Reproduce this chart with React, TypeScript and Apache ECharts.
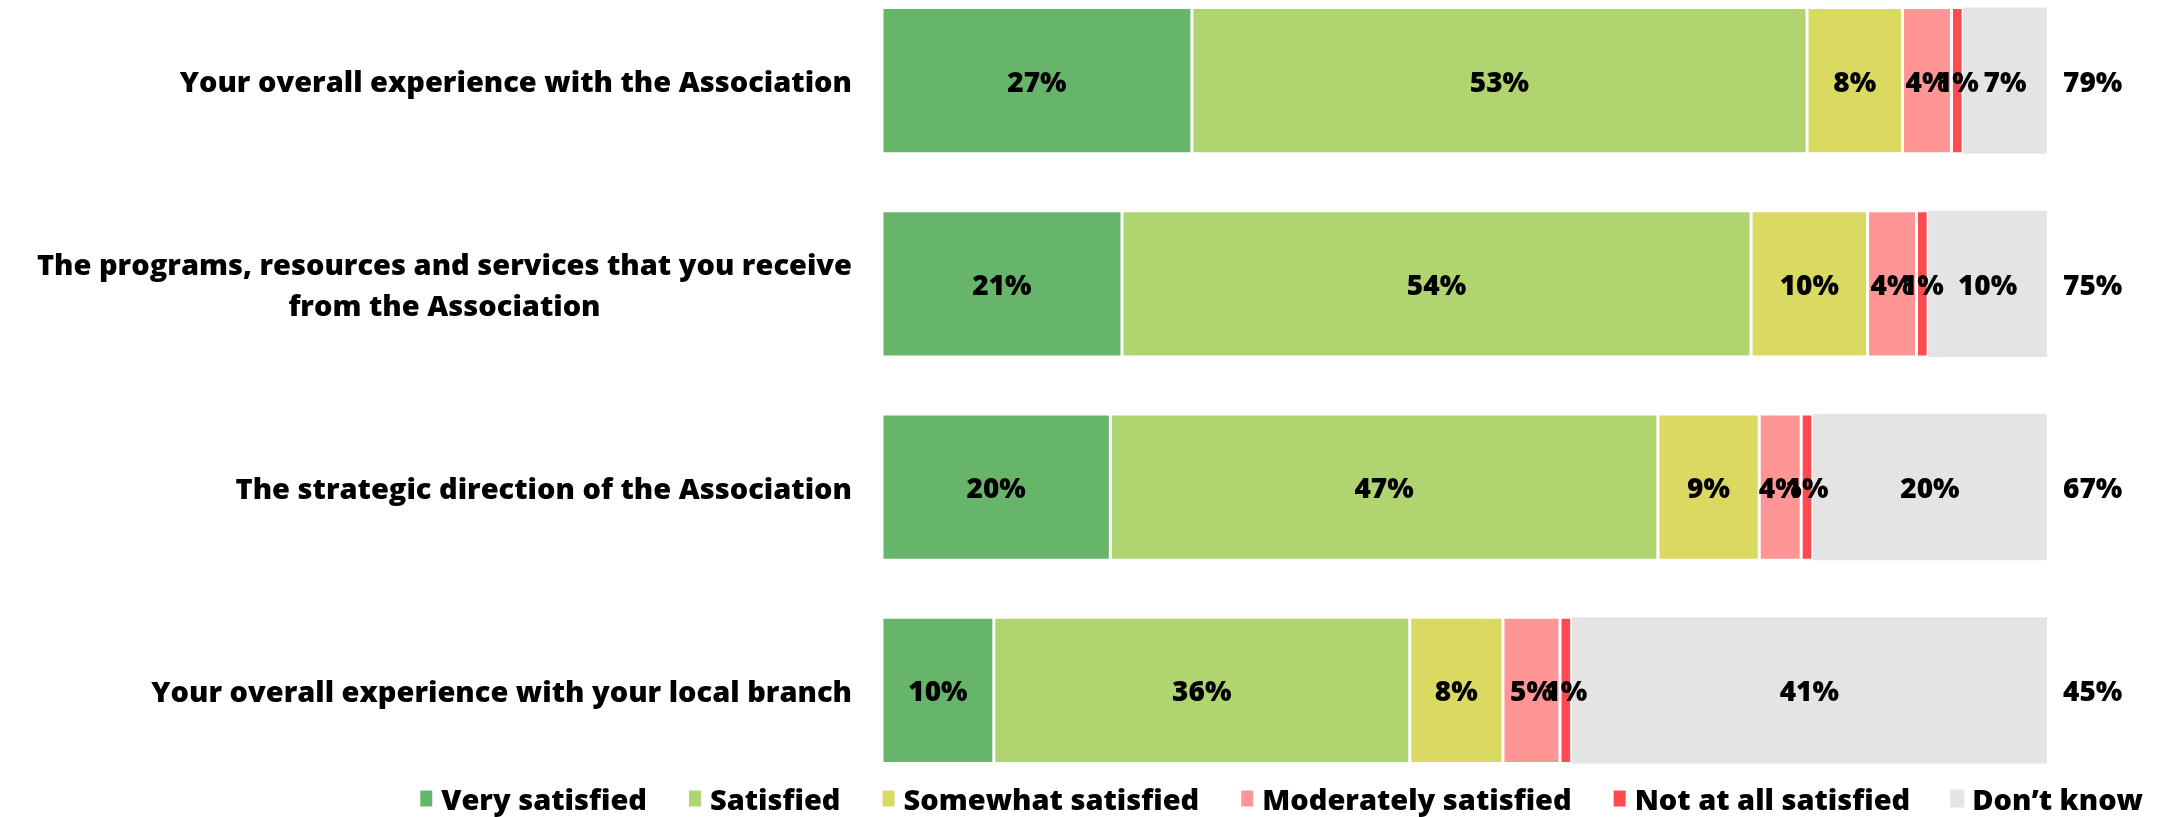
import React, { useEffect, useRef } from "react";
import * as echarts from "echarts";

const categories = [
  "Your overall experience with the Association",
  "The programs, resources and services that you receive\nfrom the Association",
  "The strategic direction of the Association",
  "Your overall experience with your local branch",
];
const seriesNames = [
  "Very satisfied",
  "Satisfied",
  "Somewhat satisfied",
  "Moderately satisfied",
  "Not at all satisfied",
  "Don\u2019t know",
];
const verySatisfied = [26.6, 20.6, 19.6, 9.6];
const satisfied = [52.8, 54.0, 47.0, 35.7];
const somewhatSatisfied = [8.2, 10.0, 8.7, 8.0];
const moderatelySatisfied = [4.2, 4.2, 3.6, 4.9];
const notAtAllSatisfied = [1.0, 1.0, 1.0, 1.0];
const dontKnow = [7.2, 10.2, 20.1, 40.8];
const totals = [79, 75, 67, 45];

const colors = ["#66B56A", "#B0D46F", "#DAD962", "#FF9594", "#FF4A52", "#E3E4E3"];
const FONT = "Open Sans";
const WEIGHT = 800;

export default function App() {
  const ref = useRef<HTMLDivElement>(null);
  useEffect(() => {
    if (!ref.current) return;
    const chart = echarts.init(ref.current, undefined, { renderer: "svg" });
    const values = [
      verySatisfied,
      satisfied,
      somewhatSatisfied,
      moderatelySatisfied,
      notAtAllSatisfied,
      dontKnow,
    ];
    const series = seriesNames.map((name, i) => ({
      name,
      type: "bar",
      stack: "total",
      data: values[i],
      barCategoryGap: "28%",
      itemStyle: {
        color: colors[i],
        borderColor: "#ffffff",
        borderWidth: i === 5 ? 0 : 1.5,
      },
      label: {
        show: true,
        position: "inside",
        formatter: (p: any) => Math.round(p.value) + "%",
        color: "#000",
        fontFamily: FONT,
        fontWeight: WEIGHT,
        fontSize: 28,
      },
    }));
    chart.setOption({
      animation: false,
      color: colors,
      grid: {
        left: 882,
        right: 115,
        top: -21,
        height: 813,
        containLabel: false,
        outerBoundsMode: "none",
      },
      legend: {
        data: seriesNames,
        right: 14,
        top: 779,
        icon: "rect",
        itemWidth: 14,
        itemHeight: 18,
        itemGap: 40,
        textStyle: {
          fontFamily: FONT,
          fontWeight: WEIGHT,
          fontSize: 29,
          color: "#000",
          padding: [0, 0, 0, 3],
        },
      },
      xAxis: { type: "value", min: 0, max: 100, show: false },
      yAxis: [
        {
          type: "category",
          data: categories,
          inverse: true,
          axisLine: { show: false },
          axisTick: { show: false },
          axisLabel: {
            margin: 30,
            align: "right",
            formatter: (v: string) =>
              v
                .split("\n")
                .map((l) => `{c|${l}}`)
                .join("\n"),
            rich: {
              c: {
                align: "center",
                fontFamily: FONT,
                fontWeight: WEIGHT,
                fontSize: 29,
                color: "#000",
                lineHeight: 41,
              },
            },
          },
        },
        {
          type: "category",
          data: totals.map((t) => t + "%"),
          inverse: true,
          position: "right",
          axisLine: { show: false },
          axisTick: { show: false },
          axisLabel: {
            margin: 16,
            align: "left",
            fontFamily: FONT,
            fontWeight: WEIGHT,
            fontSize: 28,
            color: "#000",
          },
        },
      ],
      series,
    });
    return () => chart.dispose();
  }, []);
  return (
    <div
      ref={ref}
      style={{ position: "fixed", left: 0, top: 0, width: 2162, height: 817 }}
    />
  );
}
